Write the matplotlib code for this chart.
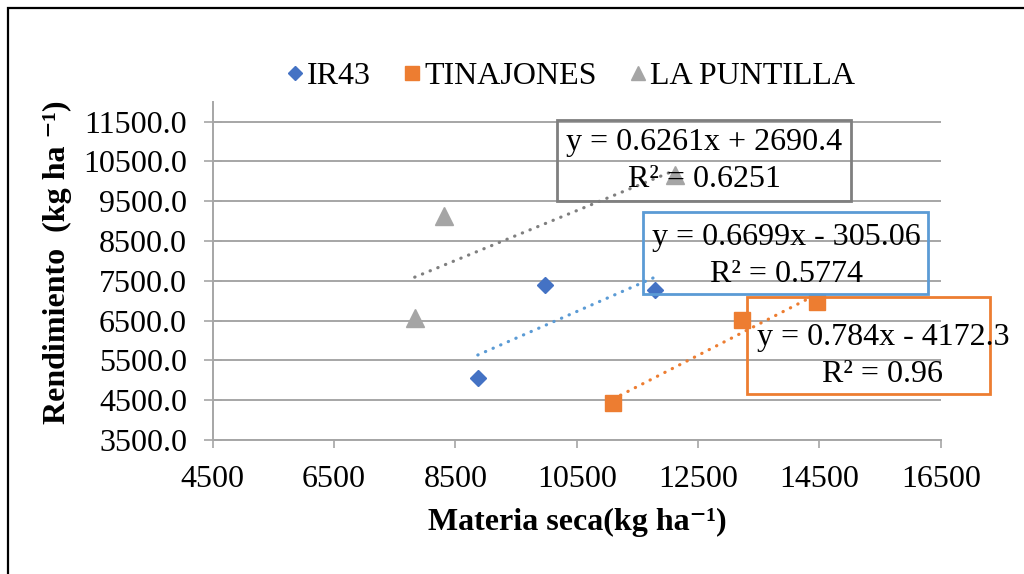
import numpy as np
import matplotlib
matplotlib.use("Agg")
import matplotlib.pyplot as plt
from matplotlib.patches import Rectangle

plt.rcParams["font.family"] = ["Liberation Serif", "DejaVu Serif"]

# Data
series = ["IR43", "TINAJONES", "LA PUNTILLA"]
ir43_x = [8870, 9980, 11790]
ir43_y = [5060, 7390, 7270]
tin_x = [11100, 13220, 14460]
tin_y = [4430, 6520, 6970]
lap_x = [7830, 8310, 12120]
lap_y = [6570, 9130, 10160]

# Linear trendlines (coefficients shown on the chart)
slopes = [0.6699, 0.784, 0.6261]
intercepts = [-305.06, -4172.3, 2690.4]
eq_labels = ["y = 0.6699x - 305.06\nR² = 0.5774",
             "y = 0.784x - 4172.3\nR² = 0.96",
             "y = 0.6261x + 2690.4\nR² = 0.6251"]

x_ticks = [4500, 6500, 8500, 10500, 12500, 14500, 16500]
y_ticks = [3500, 4500, 5500, 6500, 7500, 8500, 9500, 10500, 11500]

W, H = 1024, 574
fig = plt.figure(figsize=(W / 100, H / 100), dpi=100)
ax = fig.add_axes([212.7 / W, 1 - 440 / H, 728 / W, 338.2 / H])

grid_c = "#a6a6a6"
markers = ["D", "s", "^"]
msizes = [8.6, 12, 12.5]
colors = ["#4472c4", "#ed7d31", "#a5a5a5"]
trend_colors = ["#5b9bd5", "#ed7d31", "#7f7f7f"]
xs = [ir43_x, tin_x, lap_x]
ys = [ir43_y, tin_y, lap_y]

handles = []
for i in range(3):
    x = np.array(xs[i])
    xl = np.array([x.min(), x.max()])
    ax.plot(xl, slopes[i] * xl + intercepts[i], color=trend_colors[i], lw=2.3,
            linestyle=(0, (0.1, 2.5)), dash_capstyle="round", zorder=2)
for i in range(3):
    h, = ax.plot(xs[i], ys[i], linestyle="none", marker=markers[i], ms=msizes[i],
                 color=colors[i], mec=colors[i], label=series[i], zorder=3)
    handles.append(h)

ax.set_xlim(4500, 16500)
ax.set_ylim(3500, 12000)
ax.set_xticks(x_ticks)
ax.set_yticks(y_ticks)
ax.set_yticklabels([f"{v:.1f}" for v in y_ticks])
ax.yaxis.grid(True, color=grid_c, lw=1.4)
ax.set_axisbelow(True)
for s in ["top", "right"]:
    ax.spines[s].set_visible(False)
for s in ["left", "bottom"]:
    ax.spines[s].set_color(grid_c)
    ax.spines[s].set_linewidth(1.4)
ax.tick_params(axis="y", direction="inout", length=13, width=1.2, color=grid_c,
               labelsize=23, pad=12)
ax.tick_params(axis="x", direction="out", length=6, width=1.2, color=grid_c,
               labelsize=23, pad=12)

# axis titles
fig.text(577 / W, 1 - 522 / H, "Materia seca(kg ha⁻¹)", ha="center",
         va="center", fontsize=23, fontweight="bold")
fig.text(57 / W, 1 - 262 / H, "Rendimiento  (kg ha ⁻¹)", ha="center",
         va="center", rotation=90, fontsize=23, fontweight="bold")

# legend
fig.legend(handles=handles, loc="center", bbox_to_anchor=(571 / W, 1 - 76 / H),
           ncol=3, frameon=False, fontsize=23, handlelength=0.5, handletextpad=0.12,
           columnspacing=1.05, markerscale=0.85)

# trendline label boxes (pixel boxes: left, top, right, bottom) and text centre
boxes = [(643, 212, 928, 294), (747, 297, 990, 394), (557, 120, 851, 201)]
text_cx = [786, 883, 704]
text_cy = [256, 356, 161]
for i in range(3):
    l, t, r, b = boxes[i]
    fig.patches.append(Rectangle((l / W, 1 - b / H), (r - l) / W, (b - t) / H,
                                 transform=fig.transFigure, fill=False,
                                 ec=trend_colors[i], lw=2, zorder=5))
    fig.text(text_cx[i] / W, 1 - text_cy[i] / H, eq_labels[i], ha="center",
             va="center", fontsize=23, linespacing=1.4, zorder=6)

# outer frame
fig.patches.append(Rectangle((8 / W, -0.1), 1.2, 1 - 8 / H + 0.1,
                             transform=fig.transFigure, fill=False, ec="black",
                             lw=1.6, zorder=10))

fig.savefig("out.png", dpi=100)
